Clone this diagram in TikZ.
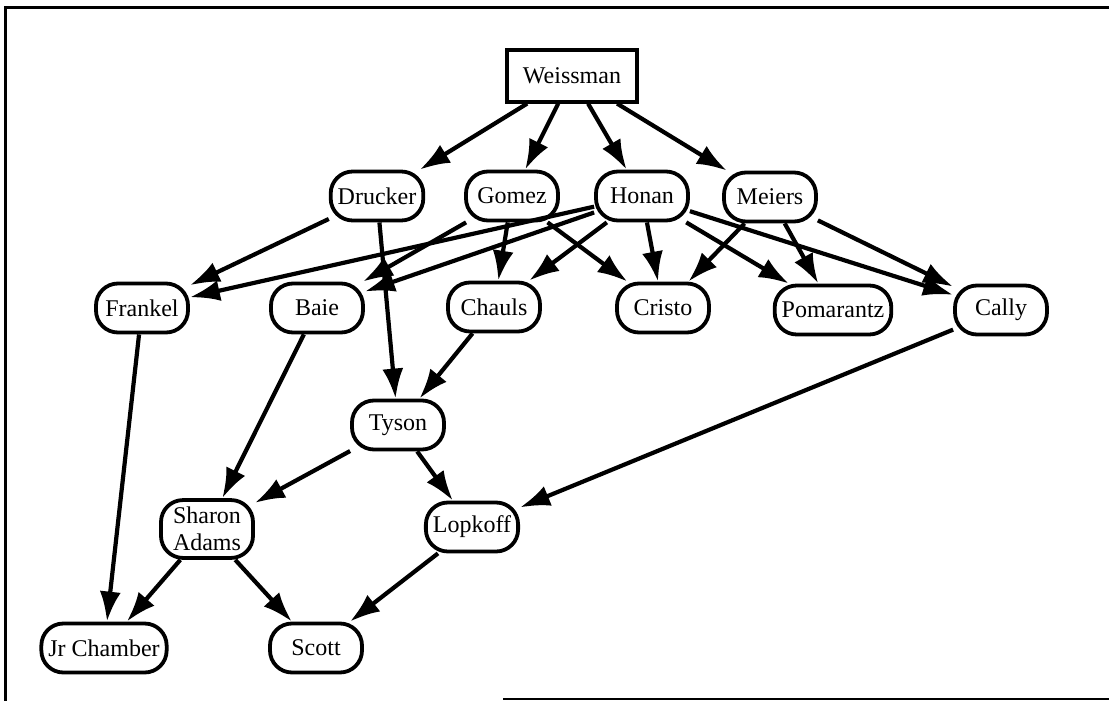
\documentclass[tikz,border=0pt]{standalone}
\usepackage{fontspec}
\setmainfont{Liberation Serif}
\usetikzlibrary{arrows.meta}

\begin{document}
\begin{tikzpicture}[
    x=1pt, y=-1pt,
    person/.style={rectangle, rounded corners=22pt, draw, line width=3.8pt, minimum width=92pt, minimum height=49pt, inner sep=7pt, align=center, font=\fontsize{24}{27}\selectfont},
    boss/.style={rectangle, draw, line width=3.2pt, minimum width=130pt, minimum height=52pt, font=\fontsize{24}{27}\selectfont},
    arrow/.style={-{Latex[length=30pt, width=21pt]}, line width=4.2pt}
]
\useasboundingbox (0,0) rectangle (1109,701);
\draw[line width=3pt] (5,701) -- (5,8) -- (1109,8);
\draw[line width=2.5pt] (503,699) -- (1109,699);

\node[boss] (weissman) at (572,76) {Weissman};

\node[person] (drucker) at (377,196) {Drucker};
\node[person] (gomez) at (512,196) {Gomez};
\node[person] (honan) at (642,196) {Honan};
\node[person] (meiers) at (770,197) {Meiers};

\node[person] (frankel) at (142,308) {Frankel};
\node[person] (baie) at (317,308) {Baie};
\node[person] (chauls) at (494,307) {Chauls};
\node[person] (cristo) at (663,308) {Cristo};
\node[person] (pomarantz) at (833,310) {Pomarantz};
\node[person] (cally) at (1001,310) {Cally};

\node[person] (tyson) at (398,425) {Tyson};
\node[person] (sharon) at (207,529) {Sharon\\Adams};
\node[person] (lopkoff) at (472,527) {Lopkoff};
\node[person] (jrchamber) at (104,648) {Jr Chamber};
\node[person] (scott) at (316,648) {Scott};

\draw[arrow] (weissman) -- (drucker);
\draw[arrow] (weissman) -- (gomez);
\draw[arrow] (weissman) -- (honan);
\draw[arrow] (weissman) -- (meiers);

\draw[arrow] (drucker) -- (frankel);
\draw[arrow] (drucker) -- (tyson);
\draw[arrow] (gomez) -- (baie);
\draw[arrow] (gomez) -- (chauls);
\draw[arrow] (gomez) -- (cristo);
\draw[arrow] (honan) -- (frankel);
\draw[arrow] (honan) -- (baie);
\draw[arrow] (honan) -- (chauls);
\draw[arrow] (honan) -- (cristo);
\draw[arrow] (honan) -- (pomarantz);
\draw[arrow] (honan) -- (cally);
\draw[arrow] (meiers) -- (cristo);
\draw[arrow] (meiers) -- (pomarantz);
\draw[arrow] (meiers) -- (cally);

\draw[arrow] (frankel) -- (jrchamber);
\draw[arrow] (baie) -- (sharon);
\draw[arrow] (chauls) -- (tyson);
\draw[arrow] (cally) -- (lopkoff);
\draw[arrow] (tyson) -- (sharon);
\draw[arrow] (tyson) -- (lopkoff);
\draw[arrow] (sharon) -- (jrchamber);
\draw[arrow] (sharon) -- (scott);
\draw[arrow] (lopkoff) -- (scott);
\end{tikzpicture}
\end{document}
